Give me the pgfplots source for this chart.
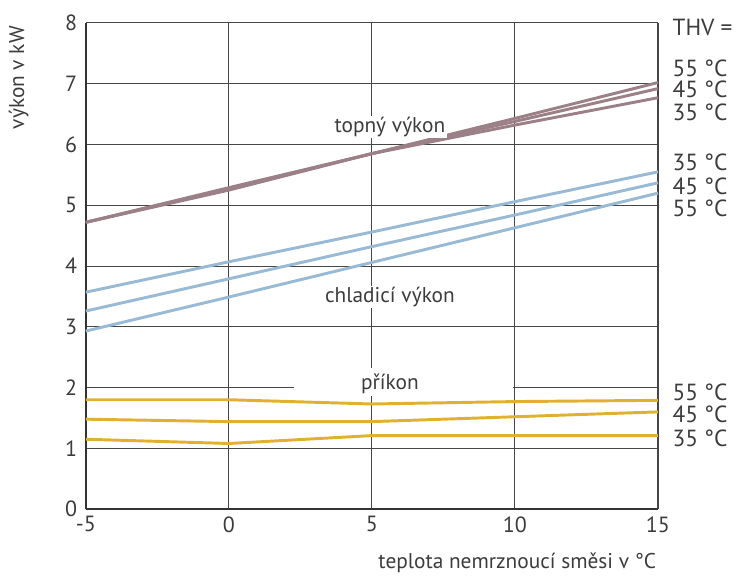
\documentclass[border=0pt]{standalone}
\usepackage{pgfplots}
\pgfplotsset{compat=1.18}
\usepackage{fontspec}
\setmainfont{PT Sans}
\definecolor{heat}{RGB}{155,128,136}
\definecolor{cool}{RGB}{152,186,212}
\definecolor{pow}{RGB}{226,176,48}
\definecolor{txt}{RGB}{60,60,60}
\definecolor{gridc}{RGB}{70,70,70}
\begin{document}
\begin{tikzpicture}[x=1pt,y=1pt]
\begin{axis}[
  scale only axis,
  width=429pt, height=364.5pt,
  xmin=-5, xmax=15, ymin=0, ymax=8,
  xtick={-5,0,5,10,15}, ytick={0,1,...,8},
  grid=major,
  major grid style={gridc, line width=0.75pt},
  axis line style={black!80, line width=1.4pt},
  axis x line*=bottom, axis y line*=left,
  major tick length=0pt,
  tick label style={font=\fontsize{16.5}{19}\selectfont, text=txt},
  /pgf/number format/assume math mode=true,
  xticklabel style={yshift=-2pt},
  yticklabel style={xshift=-3pt},
  clip=false,
]
% right border
\draw[gridc, line width=1pt] (rel axis cs:1,0) -- (rel axis cs:1,1);
% white patch on grid for "příkon"
\fill[white] (axis cs:2.27,1.86) rectangle (axis cs:9.93,2.32);
\addplot[heat, line width=2.2pt] coordinates {(-5,4.72) (0,5.25) (5,5.85) (10,6.43) (15,7.02)};
\addplot[heat, line width=2.2pt] coordinates {(-5,4.72) (0,5.27) (5,5.85) (10,6.38) (15,6.92)};
\addplot[heat, line width=2.2pt] coordinates {(-5,4.72) (0,5.29) (5,5.85) (10,6.32) (15,6.77)};
\addplot[cool, line width=2.2pt] coordinates {(-5,3.57) (0,4.07) (5,4.56) (10,5.06) (15,5.55)};
\addplot[cool, line width=2.2pt] coordinates {(-5,3.26) (0,3.79) (5,4.32) (10,4.84) (15,5.37)};
\addplot[cool, line width=2.2pt] coordinates {(-5,2.93) (0,3.49) (5,4.06) (10,4.63) (15,5.20)};
\addplot[pow, line width=2.2pt] coordinates {(-5,1.80) (0,1.80) (5,1.73) (10,1.77) (15,1.79)};
\addplot[pow, line width=2.2pt] coordinates {(-5,1.48) (0,1.44) (5,1.44) (10,1.52) (15,1.60)};
\addplot[pow, line width=2.2pt] coordinates {(-5,1.15) (0,1.08) (5,1.21) (10,1.21) (15,1.21)};
\tikzset{lab/.style={font=\fontsize{16}{19}\selectfont, text=txt},
         rlab/.style={font=\fontsize{17.5}{20}\selectfont, text=txt, anchor=west, inner sep=0pt}}
\node[lab, fill=white, inner sep=1pt] at (axis cs:5.63,6.29) {topný výkon};
\node[lab, fill=white, inner sep=1pt] at (axis cs:5.63,3.49) {chladicí výkon};
\node[lab, inner sep=1pt] at (axis cs:5.63,2.07) {příkon};
\node[rlab] at (axis cs:15.5,7.93) {THV =};
\node[rlab] at (axis cs:15.5,7.26) {55 °C};
\node[rlab] at (axis cs:15.5,6.90) {45 °C};
\node[rlab] at (axis cs:15.5,6.53) {35 °C};
\node[rlab] at (axis cs:15.5,5.71) {35 °C};
\node[rlab] at (axis cs:15.5,5.32) {45 °C};
\node[rlab] at (axis cs:15.5,4.95) {55 °C};
\node[rlab] at (axis cs:15.5,1.93) {55 °C};
\node[rlab] at (axis cs:15.5,1.56) {45 °C};
\node[rlab] at (axis cs:15.5,1.17) {35 °C};
\node[lab, rotate=90] at (axis cs:-7.35,7.1) {výkon v kW};
\node[lab, anchor=east] at (axis cs:15.1,-0.89) {teplota nemrznoucí směsi v °C};
\path (rel axis cs:-0.150,-0.1337) rectangle (rel axis cs:1.1416,1.0473);
\end{axis}
\end{tikzpicture}
\end{document}
